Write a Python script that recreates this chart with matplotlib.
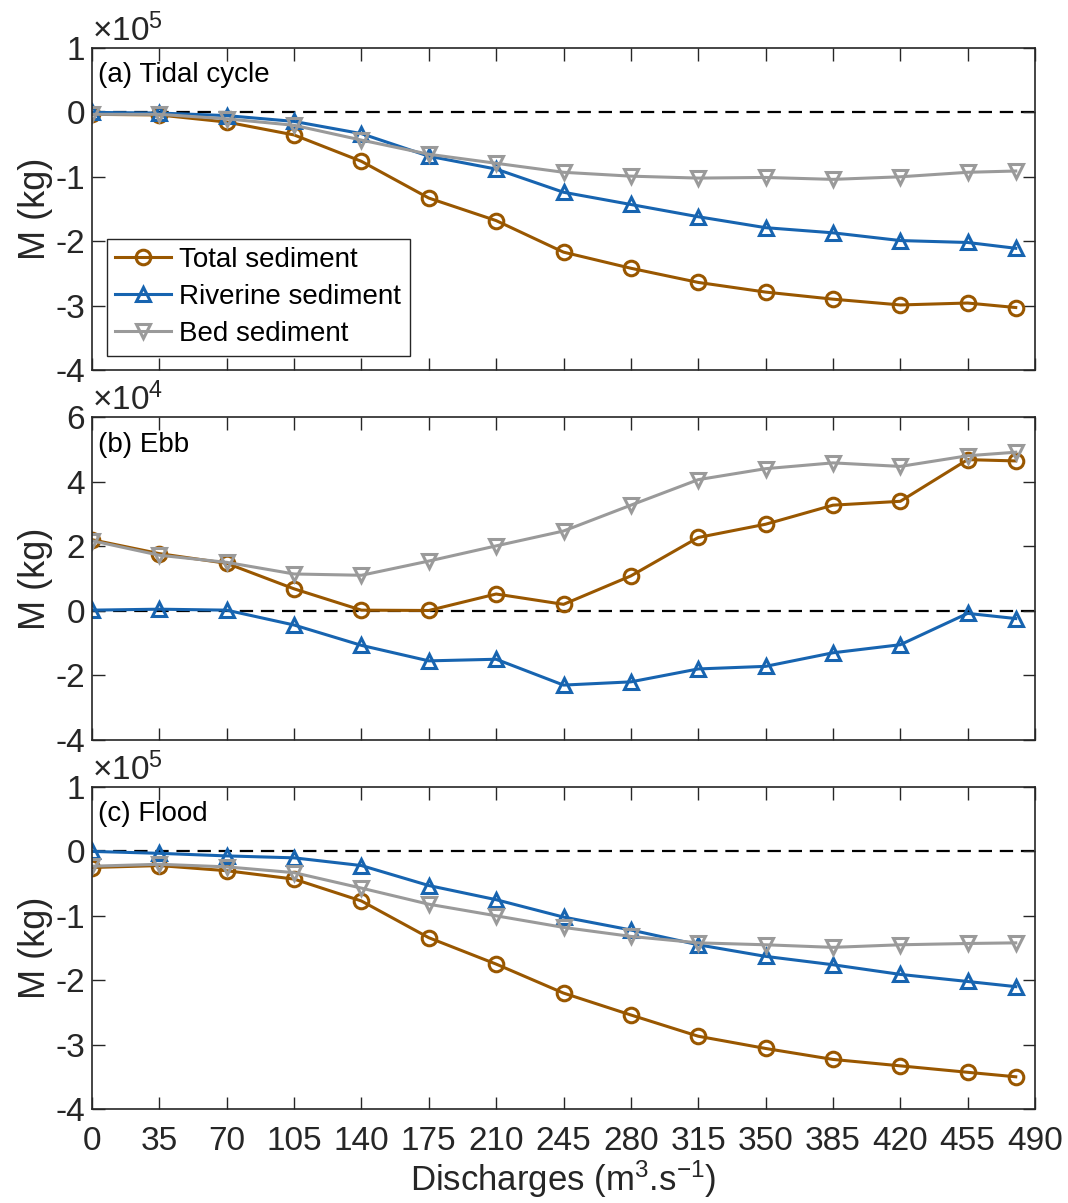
import numpy as np
import matplotlib
matplotlib.use("Agg")
import matplotlib.pyplot as plt

plt.rcParams['font.family'] = ['Liberation Sans', 'DejaVu Sans']
plt.rcParams['mathtext.fontset'] = 'custom'
plt.rcParams['mathtext.rm'] = 'Liberation Sans'
plt.rcParams['mathtext.it'] = 'Liberation Sans'
plt.rcParams['axes.unicode_minus'] = False

# Discharge (m3/s)
discharge = [0, 35, 70, 105, 140, 175, 210, 245, 280, 315, 350, 385, 420, 455, 480]

# (a) tidal cycle, x 1e5 kg
tide_total = [-0.03, -0.04, -0.15, -0.35, -0.76, -1.33, -1.68, -2.17, -2.42, -2.64, -2.79, -2.90, -2.99, -2.96, -3.03]
tide_river = [0.00, -0.01, -0.05, -0.14, -0.33, -0.68, -0.88, -1.24, -1.43, -1.62, -1.79, -1.87, -1.99, -2.02, -2.11]
tide_bed = [-0.03, -0.03, -0.10, -0.20, -0.43, -0.65, -0.79, -0.93, -0.99, -1.02, -1.01, -1.04, -1.00, -0.93, -0.91]

# (b) ebb, x 1e4 kg
ebb_total = [2.20, 1.77, 1.47, 0.68, 0.02, 0.01, 0.52, 0.20, 1.08, 2.27, 2.68, 3.27, 3.39, 4.68, 4.64]
ebb_river = [0.02, 0.05, 0.02, -0.44, -1.07, -1.55, -1.50, -2.30, -2.20, -1.80, -1.72, -1.30, -1.05, -0.08, -0.24]
ebb_bed = [2.17, 1.72, 1.50, 1.14, 1.10, 1.54, 2.01, 2.47, 3.27, 4.06, 4.40, 4.58, 4.47, 4.80, 4.91]

# (c) flood, x 1e5 kg
fld_total = [-0.25, -0.22, -0.30, -0.43, -0.77, -1.34, -1.75, -2.20, -2.54, -2.87, -3.06, -3.23, -3.33, -3.43, -3.50]
fld_river = [0.00, -0.03, -0.07, -0.10, -0.22, -0.53, -0.75, -1.02, -1.22, -1.45, -1.63, -1.76, -1.91, -2.02, -2.10]
fld_bed = [-0.23, -0.20, -0.24, -0.33, -0.57, -0.82, -1.00, -1.18, -1.32, -1.42, -1.45, -1.49, -1.45, -1.43, -1.42]

xticks = list(range(0, 491, 35))

c_total = '#995700'
c_river = '#1764b0'
c_bed = '#9a9a9a'
dark = '#262626'

fig = plt.figure(figsize=(10.68, 12.03), dpi=100)
W, H = 1068, 1203
left, right = 92, 1035
boxes = [(48, 370), (417, 740), (787, 1109)]

panels = [
    ('(a) Tidal cycle', tide_total, tide_river, tide_bed, (-4, 1), range(-4, 2), '5'),
    ('(b) Ebb', ebb_total, ebb_river, ebb_bed, (-4, 6), range(-4, 7, 2), '4'),
    ('(c) Flood', fld_total, fld_river, fld_bed, (-4, 1), range(-4, 2), '5'),
]

for i, (title, tot, riv, bed, ylim, yt, ex) in enumerate(panels):
    top, bot = boxes[i]
    ax = fig.add_axes([left / W, 1 - bot / H, (right - left) / W, (bot - top) / H])
    ax.axhline(0, color='black', ls=(0, (6, 3.5)), lw=1.6, zorder=1)
    kw = dict(lw=2.2, ms=10.5, mew=2.2, mfc='none')
    ax.plot(discharge, tot, '-o', color=c_total, label='Total sediment', **kw)
    ax.plot(discharge, riv, '-^', color=c_river, label='Riverine sediment', **kw)
    ax.plot(discharge, bed, '-v', color=c_bed, label='Bed sediment', **kw)
    ax.set_xlim(0, 490)
    ax.set_ylim(*ylim)
    ax.set_xticks(xticks)
    ax.set_yticks(list(yt))
    ax.tick_params(direction='in', top=True, right=True, length=9, width=1,
                   colors=dark, labelsize=24)
    ax.tick_params(axis='x', pad=12)
    ax.tick_params(axis='y', pad=5)
    for s in ax.spines.values():
        s.set_color(dark)
        s.set_linewidth(1.2)
    if i < 2:
        ax.set_xticklabels([])
    else:
        ax.set_xlabel('Discharges (m$^{3}$.s$^{-1}$)', fontsize=25, color=dark, labelpad=1)
    ax.set_ylabel('M (kg)', fontsize=26, color=dark, labelpad=2)
    ax.text(0.006, 0.955, title, transform=ax.transAxes, fontsize=20, va='top', ha='left')
    ax.text(0.0, 1.0, r'$\times10^{%s}$' % ex, transform=ax.transAxes, fontsize=24,
            va='bottom', ha='left', color=dark)
    if i == 0:
        leg = ax.legend(loc='lower left', bbox_to_anchor=(0.016, 0.045), fontsize=20,
                        frameon=True, fancybox=False, framealpha=1, borderpad=0.3,
                        labelspacing=0.4, handlelength=2.0, handletextpad=0.3,
                        borderaxespad=0)
        leg.get_frame().set_edgecolor(dark)
        leg.get_frame().set_linewidth(1.0)

fig.savefig('out.png', dpi=100)
